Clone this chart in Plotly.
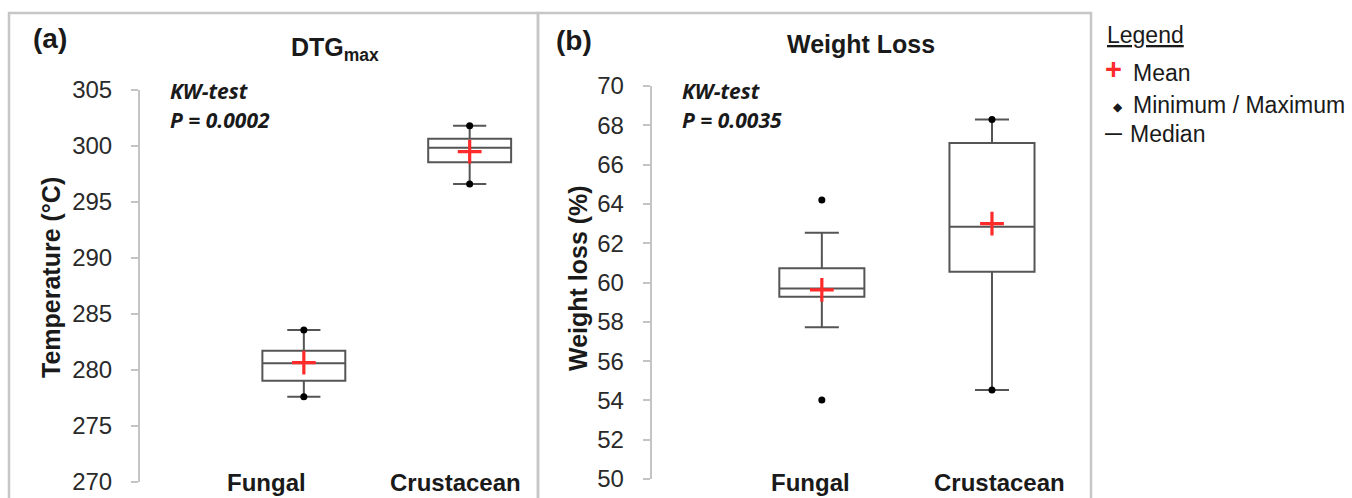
import plotly.graph_objects as go

W, H = 1352, 498

# ---------------- data ----------------
categories = ["Fungal", "Crustacean"]

# (a) DTGmax temperature (°C)
dtg_q1 = [279.04, 298.54]
dtg_median = [280.60, 299.85]
dtg_q3 = [281.72, 300.65]
dtg_min = [277.62, 296.61]
dtg_max = [283.57, 301.81]
dtg_mean = [280.65, 299.49]

# (b) Weight loss (%)
wl_q1 = [59.28, 60.55]
wl_median = [59.70, 62.84]
wl_q3 = [60.72, 67.10]
wl_lower_whisker = [57.72, 54.53]
wl_upper_whisker = [62.53, 68.30]
wl_min = [54.02, 54.53]
wl_max = [64.20, 68.30]
wl_mean = [59.62, 63.00]

dtg_ticks = [270, 275, 280, 285, 290, 295, 300, 305]
wl_ticks = [50, 52, 54, 56, 58, 60, 62, 64, 66, 68, 70]

p_values = ["P = 0.0002", "P = 0.0035"]
panel_labels = ["(a)", "(b)"]
panel_titles = ["<b>DTG<sub>max</sub></b>", "<b>Weight Loss</b>"]
y_titles = ["Temperature (°C)", "Weight loss (%)"]
legend_items = ["Mean", "Minimum / Maximum", "Median"]

# ---------------- helpers ----------------
def px(x):
    return x / W

def py(y):
    return 1 - y / H

BOX_LINE = "#555555"
AXIS_GREY = "#c4c4c4"
TEXT = "#1a1a1a"
RED = "#ff2a2a"
pos = [0, 1]

fig = go.Figure()

# panel (a)
fig.add_trace(go.Box(
    x=pos, q1=dtg_q1, median=dtg_median, q3=dtg_q3,
    lowerfence=dtg_min, upperfence=dtg_max,
    width=0.5, whiskerwidth=0.4, fillcolor="white",
    line=dict(color=BOX_LINE, width=2), boxpoints=False,
    xaxis="x", yaxis="y", hoverinfo="skip", showlegend=False))
fig.add_trace(go.Scatter(
    x=pos + pos, y=dtg_min + dtg_max, mode="markers",
    marker=dict(color="black", size=7), xaxis="x", yaxis="y",
    hoverinfo="skip", showlegend=False))
fig.add_trace(go.Scatter(
    x=pos, y=dtg_mean, mode="markers",
    marker=dict(symbol="cross-thin", size=17, line=dict(color=RED, width=3.2)),
    xaxis="x", yaxis="y", hoverinfo="skip", showlegend=False))

# panel (b)
fig.add_trace(go.Box(
    x=pos, q1=wl_q1, median=wl_median, q3=wl_q3,
    lowerfence=wl_lower_whisker, upperfence=wl_upper_whisker,
    width=0.5, whiskerwidth=0.4, fillcolor="white",
    line=dict(color=BOX_LINE, width=2), boxpoints=False,
    xaxis="x2", yaxis="y2", hoverinfo="skip", showlegend=False))
fig.add_trace(go.Scatter(
    x=pos + pos, y=wl_min + wl_max, mode="markers",
    marker=dict(color="black", size=7), xaxis="x2", yaxis="y2",
    hoverinfo="skip", showlegend=False))
fig.add_trace(go.Scatter(
    x=pos, y=wl_mean, mode="markers",
    marker=dict(symbol="cross-thin", size=17, line=dict(color=RED, width=3.2)),
    xaxis="x2", yaxis="y2", hoverinfo="skip", showlegend=False))

tickfont = dict(family="Liberation Sans, Arial, sans-serif", size=24, color="#2a2a2a")

def yax(domain, rng, ticks, anchor):
    return dict(domain=domain, range=rng, tickvals=ticks, anchor=anchor,
                showgrid=False, zeroline=False, showline=True,
                linecolor=AXIS_GREY, linewidth=2, ticks="outside", ticklen=7,
                tickwidth=2, tickcolor=AXIS_GREY, tickfont=tickfont,
                ticklabelstandoff=14, fixedrange=True, automargin=False)

def yax_inner(rng, ticks, anchor, over):
    return dict(range=rng, tickvals=ticks, anchor=anchor, overlaying=over,
                showgrid=False, zeroline=False, showline=False,
                ticks="inside", ticklen=7, tickwidth=2, tickcolor=AXIS_GREY,
                showticklabels=False, fixedrange=True, automargin=False)

def xax(domain, rng, anchor):
    return dict(domain=domain, range=rng, anchor=anchor, showgrid=False,
                zeroline=False, showline=False, showticklabels=False,
                ticks="", fixedrange=True, automargin=False)

fig.update_layout(
    width=W, height=H,
    margin=dict(l=0, r=0, t=0, b=0, autoexpand=False),
    paper_bgcolor="white", plot_bgcolor="rgba(0,0,0,0)",
    font=dict(family="Liberation Sans, Arial, sans-serif", color=TEXT),
    xaxis=xax([px(140), px(536)], [-0.988, 1.4], "y"),
    yaxis=yax([1 - 482 / H, 1 - 90 / H], [270, 305], dtg_ticks, "x"),
    yaxis3=yax_inner([270, 305], dtg_ticks, "x", "y"),
    xaxis2=xax([px(651.7), px(1050)], [-1.0, 1.341], "y2"),
    yaxis2=yax([1 - 479 / H, 1 - 86 / H], [50, 70], wl_ticks, "x2"),
    yaxis4=yax_inner([50, 70], wl_ticks, "x2", "y2"),
)

# panel frames
FRAME = "#c6c6c6"
for x0, x1 in [(9, 538), (538, 1091)]:
    fig.add_shape(type="rect", xref="paper", yref="paper",
                  x0=px(x0), x1=px(x1), y0=py(530), y1=py(13),
                  line=dict(color=FRAME, width=2.5), fillcolor="rgba(0,0,0,0)",
                  layer="below")

ann = []
def add(text, x, y, size, xanchor="center", yanchor="middle", color=TEXT,
        family="Liberation Sans, Arial, sans-serif", angle=0):
    ann.append(dict(text=text, x=px(x), y=py(y), xref="paper", yref="paper",
                    xanchor=xanchor, yanchor=yanchor, showarrow=False,
                    textangle=angle, font=dict(size=size, color=color, family=family)))

# panel labels & titles
add("<b>" + panel_labels[0] + "</b>", 50, 39, 28)
add("<b>" + panel_labels[1] + "</b>", 574, 40, 28)
add(panel_titles[0], 335, 49, 25)
add(panel_titles[1], 861, 44, 25)

# y titles
add("<b>" + y_titles[0] + "</b>", 50.5, 277.5, 25, angle=-90)
add("<b>" + y_titles[1] + "</b>", 578, 278, 25, angle=-90)

# KW-test texts
for x0, p in [(168, p_values[0]), (680, p_values[1])]:
    add("<b><i>KW-test</i></b>", x0, 90.5, 21, xanchor="left",
        family="Open Sans, sans-serif")
    add("<b><i>" + p + "</i></b>", x0, 120, 21, xanchor="left",
        family="Open Sans, sans-serif")

# category labels
for xc, cat in [(266.7, categories[0]), (455.5, categories[1]),
                (810.5, categories[0]), (999.3, categories[1])]:
    add("<b>" + cat + "</b>", xc, 482, 24)

# legend
add("<u>Legend</u>", 1105, 35, 23, xanchor="left")
add("<b>+</b>", 1113.5, 69.5, 29, color=RED)
add(legend_items[0], 1131, 73, 23, xanchor="left")
add("◆", 1118, 107, 12, family="DejaVu Sans")
add(legend_items[1], 1131, 105.5, 23, xanchor="left")
add("<b>—</b>", 1113, 133, 17)
add(legend_items[2], 1128, 133.5, 23, xanchor="left")

fig.update_layout(annotations=ann)
fig.write_html("out.html")
